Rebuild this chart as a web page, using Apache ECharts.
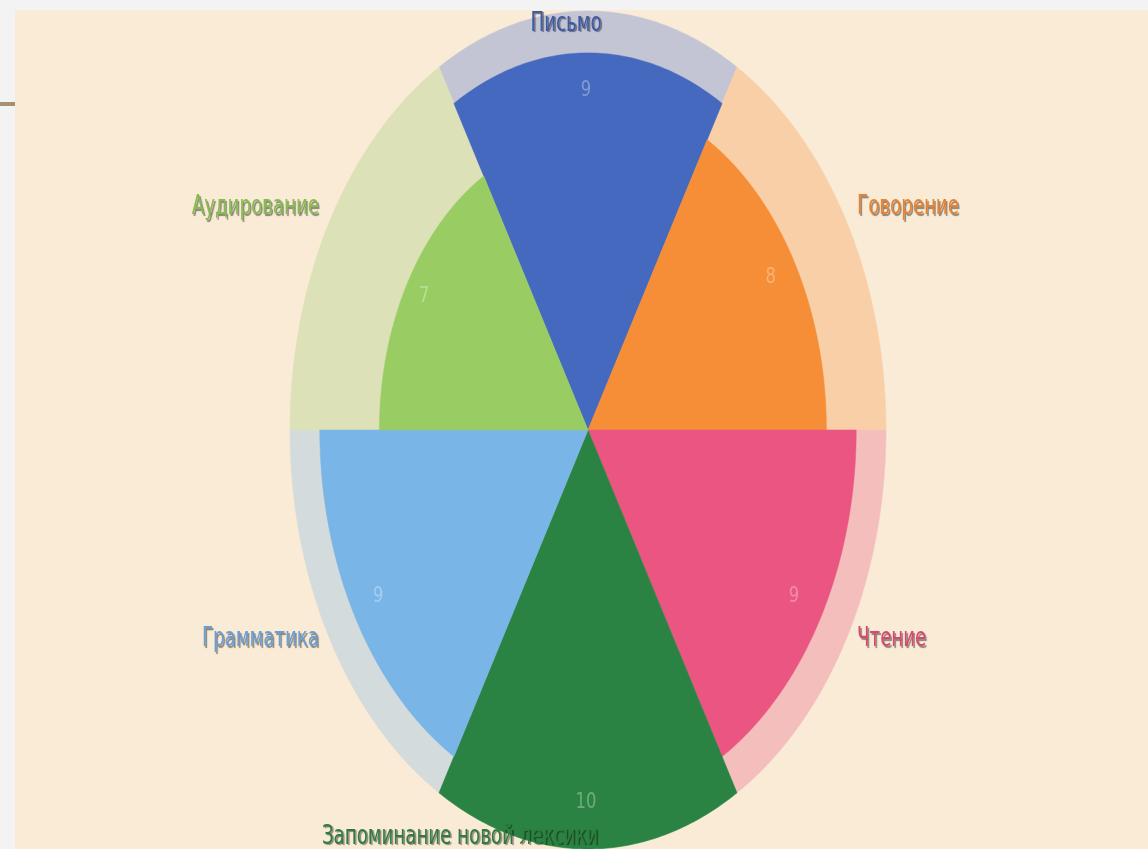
<!DOCTYPE html>
<html>
<head>
<meta charset="utf-8">
<script src="https://cdn.jsdelivr.net/npm/echarts@6/dist/echarts.min.js"></script>
<style>
  html, body { margin: 0; padding: 0; width: 1148px; height: 849px; overflow: hidden; background: #f3f3f3; }
  #panel { position: absolute; left: 15px; top: 10px; width: 1133px; height: 839px; background: #faebd7; }
  #rule { position: absolute; left: 0; top: 102px; width: 15px; height: 4px; background: #a89172; }
  #chart { position: absolute; left: 0; top: 0; width: 1148px; height: 849px; }
</style>
</head>
<body>
<div id="panel"></div>
<div id="rule"></div>
<div id="chart"></div>
<script>
// ---- data ----
const categories = ['Письмо', 'Говорение', 'Чтение', 'Запоминание новой лексики', 'Грамматика', 'Аудирование'];
const values = [9, 8, 9, 10, 9, 7];
const maxValues = [10, 10, 10, 10, 10, 10];

// ---- styles ----
const fgColors = ['#4569be', '#f58e37', '#ea5581', '#2a8342', '#79b5e6', '#9acc64'];
const bgColors = ['#c4c5d4', '#f8cfa6', '#f4bebc', '#c3d9c6', '#d3dbdc', '#dde1b7'];
const labelColors = ['#3d5ba8', '#e8822f', '#d9466f', '#2e7d3e', '#6a9fd6', '#85bd4e'];
// label placement relative to the outer edge point at the sector middle (px offsets, alignment)
const labelPlace = [
  { dx: -22, dy: 13, align: 'center' },
  { dx: 11, dy: -13, align: 'left' },
  { dx: 11, dy: 0, align: 'left' },
  { dx: -128, dy: -12, align: 'center' },
  { dx: -11, dy: 0, align: 'right' },
  { dx: -11, dy: -13, align: 'right' }
];
const N = 6;
const step = 360 / N;
const startAngle = 120;
const rad = d => d * Math.PI / 180;

function sectorPoints(api, i, r) {
  const a0 = rad(startAngle - step * i), a1 = rad(startAngle - step * (i + 1));
  const pts = [api.coord([0, 0])];
  const M = 80;
  for (let k = 0; k <= M; k++) {
    const a = a0 + (a1 - a0) * k / M;
    pts.push(api.coord([r * Math.cos(a), r * Math.sin(a)]));
  }
  return pts;
}

function sectorSeries(vals, colors, withValueLabel, z) {
  return {
    type: 'custom',
    z: z,
    silent: true,
    clip: false,
    data: vals.map((v, i) => [i, v]),
    renderItem: function (params, api) {
      const i = api.value(0), v = api.value(1);
      const children = [{
        type: 'polygon',
        shape: { points: sectorPoints(api, i, v) },
        style: { fill: colors[i], stroke: colors[i], lineWidth: 0.5 }
      }];
      if (withValueLabel) {
        const am = rad(startAngle - step * (i + 0.5));
        const rl = v * 0.895;
        const p = api.coord([rl * Math.cos(am), rl * Math.sin(am)]);
        children.push({
          type: 'text',
          x: p[0] - 2, y: p[1] - 2,
          scaleX: 0.78,
          style: {
            text: String(v), x: 0, y: 0,
            fill: 'rgba(255,255,255,0.32)',
            fontSize: 21, fontFamily: 'DejaVu Sans',
            align: 'center', verticalAlign: 'middle'
          }
        });
      }
      return { type: 'group', children: children };
    }
  };
}

const labelSeries = {
  type: 'custom',
  z: 10,
  silent: true,
  clip: false,
  data: categories.map((c, i) => [i, 10]),
  renderItem: function (params, api) {
    const i = api.value(0), r = api.value(1);
    const am = rad(startAngle - step * (i + 0.5));
    const p = api.coord([r * Math.cos(am), r * Math.sin(am)]);
    const pl = labelPlace[i];
    return {
      type: 'text',
      x: p[0] + pl.dx, y: p[1] + pl.dy,
      scaleX: 0.7,
      style: {
        text: categories[i], x: 0, y: 0,
        fill: labelColors[i],
        fontSize: 26, fontFamily: 'DejaVu Sans',
        align: pl.align, verticalAlign: 'middle',
        textShadowColor: 'rgba(0,0,0,0.45)', textShadowOffsetX: 1.5, textShadowOffsetY: 1.5, textShadowBlur: 1
      }
    };
  }
};

const chart = echarts.init(document.getElementById('chart'));
chart.setOption({
  animation: false,
  backgroundColor: 'transparent',
  grid: { left: 290, top: 11, width: 596, height: 840 },
  xAxis: { type: 'value', min: -10, max: 10, show: false },
  yAxis: { type: 'value', min: -10, max: 10, show: false },
  series: [
    sectorSeries(maxValues, bgColors, false, 1),
    sectorSeries(values, fgColors, true, 2),
    labelSeries
  ]
});
</script>
</body>
</html>
